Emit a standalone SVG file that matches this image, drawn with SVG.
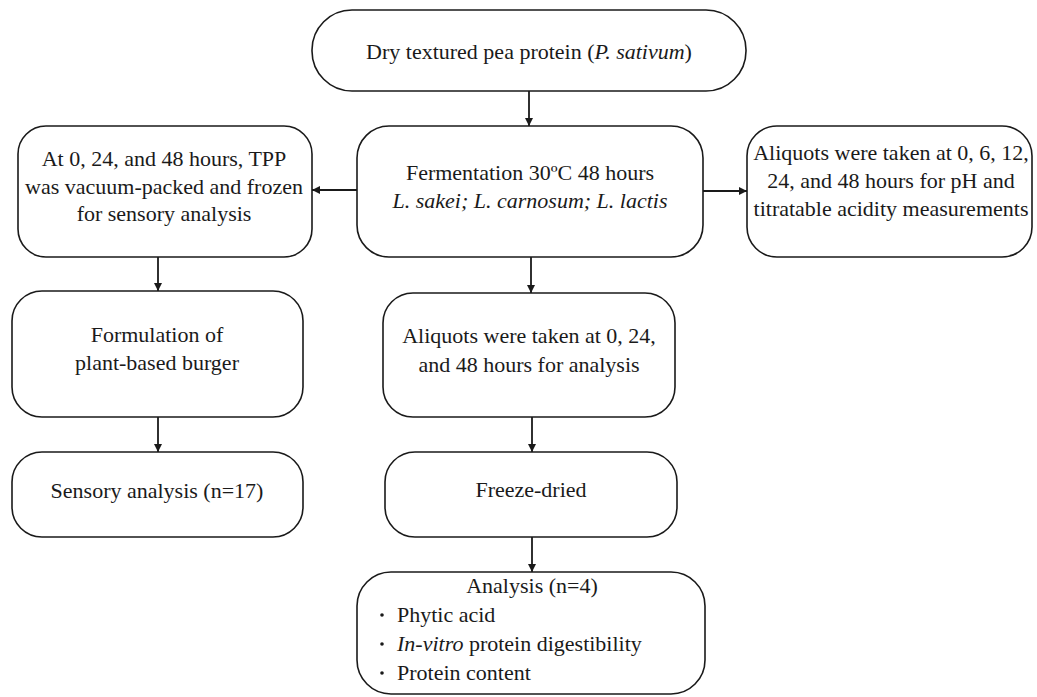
<svg xmlns="http://www.w3.org/2000/svg" width="1037" height="697" viewBox="0 0 1037 697">
<style>
.box{fill:#fff;stroke:#1a1a1a;stroke-width:1.6}
.t{font-family:"Liberation Serif","Times New Roman",serif;font-size:22px;fill:#1a1a1a;text-anchor:middle}
.l{font-family:"Liberation Serif","Times New Roman",serif;font-size:22px;fill:#1a1a1a}
.c{stroke:#1a1a1a;stroke-width:1.8;fill:none;marker-end:url(#ah)}
</style>
<defs>
<marker id="ah" viewBox="0 0 10 10" refX="10" refY="5" markerWidth="8" markerHeight="8" markerUnits="userSpaceOnUse" orient="auto">
<path d="M0,0 L10,5 L0,10 z" fill="#1a1a1a"/>
</marker>
</defs>
<rect width="1037" height="697" fill="#fff"/>
<g id="connectors">
<line class="c" x1="529" y1="91" x2="529" y2="126"/>
<line class="c" x1="357" y1="190" x2="312" y2="190"/>
<line class="c" x1="703" y1="191" x2="747" y2="191"/>
<line class="c" x1="158" y1="257" x2="158" y2="291"/>
<line class="c" x1="158" y1="417" x2="158" y2="452"/>
<line class="c" x1="531" y1="257" x2="531" y2="293"/>
<line class="c" x1="532" y1="417" x2="532" y2="452"/>
<line class="c" x1="532" y1="537" x2="532" y2="572"/>
</g>
<g id="n_dry">
<rect class="box" x="312" y="10" width="434" height="81" rx="40" ry="40"/>
<text class="t" x="529" y="59">Dry textured pea protein (<tspan font-style="italic">P. sativum</tspan>)</text>
</g>
<g id="n_ferm">
<rect class="box" x="357" y="126" width="346" height="131" rx="32" ry="32"/>
<text class="t" x="530" y="180">Fermentation 30ºC 48 hours</text>
<text class="t" x="530" y="208" font-style="italic">L. sakei; L. carnosum; L. lactis</text>
</g>
<g id="n_tpp">
<rect class="box" x="18" y="126" width="294" height="131" rx="28" ry="28"/>
<text class="t" x="164" y="166">At 0, 24, and 48 hours, TPP</text>
<text class="t" x="164" y="194">was vacuum-packed and frozen</text>
<text class="t" x="164" y="221">for sensory analysis</text>
</g>
<g id="n_ph">
<rect class="box" x="747" y="126" width="285" height="131" rx="30" ry="30"/>
<text class="t" x="891" y="160">Aliquots were taken at 0, 6, 12,</text>
<text class="t" x="891" y="188">24, and 48 hours for pH and</text>
<text class="t" x="891" y="216">titratable acidity measurements</text>
</g>
<g id="n_formulation">
<rect class="box" x="12" y="291" width="291" height="126" rx="30" ry="30"/>
<text class="t" x="157" y="342">Formulation of</text>
<text class="t" x="157" y="370">plant-based burger</text>
</g>
<g id="n_sensory">
<rect class="box" x="12" y="452" width="291" height="85" rx="30" ry="30"/>
<text class="t" x="157" y="498">Sensory analysis (n=17)</text>
</g>
<g id="n_aliquots">
<rect class="box" x="383" y="293" width="292" height="124" rx="30" ry="30"/>
<text class="t" x="529" y="343">Aliquots were taken at 0, 24,</text>
<text class="t" x="529" y="372">and 48 hours for analysis</text>
</g>
<g id="n_freeze">
<rect class="box" x="385" y="452" width="292" height="85" rx="30" ry="30"/>
<text class="t" x="531" y="497">Freeze-dried</text>
</g>
<g id="n_analysis">
<rect class="box" x="357" y="572" width="348" height="122" rx="34" ry="34"/>
<text class="t" x="532" y="593">Analysis (n=4)</text>
<circle cx="382" cy="615" r="1.8" fill="#1a1a1a"/>
<circle cx="382" cy="644" r="1.8" fill="#1a1a1a"/>
<circle cx="382" cy="673" r="1.8" fill="#1a1a1a"/>
<text class="l" x="397" y="622">Phytic acid</text>
<text class="l" x="397" y="651"><tspan font-style="italic">In-vitro</tspan> protein digestibility</text>
<text class="l" x="397" y="680">Protein content</text>
</g>
</svg>
